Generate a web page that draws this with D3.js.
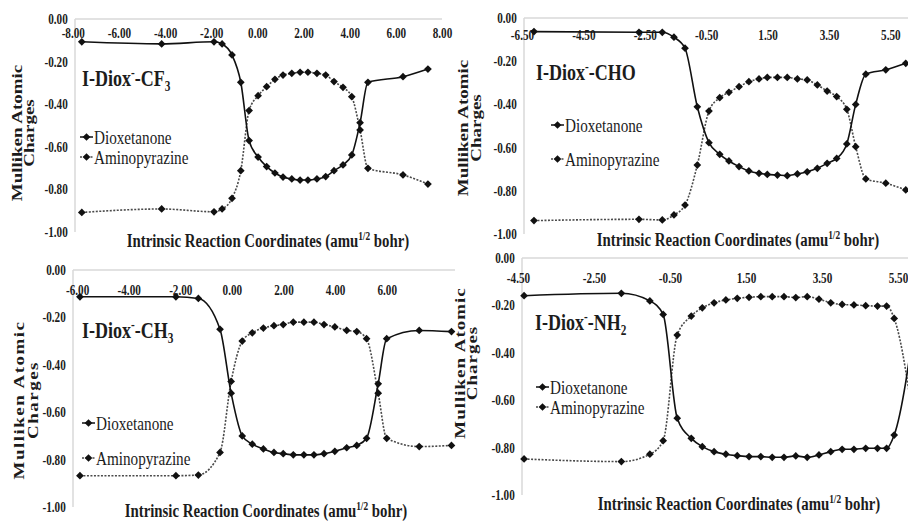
<!DOCTYPE html>
<html lang="en">
<head>
<meta charset="UTF-8">
<title>Mulliken Atomic Charges along the IRC</title>
<script src="https://d3js.org/d3.v7.min.js"></script>
<style>
  body { margin: 0; background: #fff; }
  svg text { font-family: "Liberation Serif", "Times New Roman", serif; fill: #1c1c1c; }
</style>
</head>
<body>
<div id="chart"></div>
<script>
// ---- data ----
var seriesNames = ["Dioxetanone", "Aminopyrazine"];
var yTicks = [0, -0.2, -0.4, -0.6, -0.8, -1.0];

// I-Diox(-)-CF3
var cf3Ticks = [-8, -6, -4, -2, 0, 2, 4, 6, 8];
var cf3X     = [-7.61, -4.15, -1.88, -1.53, -1.10, -0.72, -0.36, 0.03, 0.40, 0.76, 1.11, 1.49, 1.85, 2.19, 2.58, 2.96, 3.32, 3.71, 4.09, 4.45, 4.79, 6.31, 7.39];
var cf3Diox  = [-0.107, -0.117, -0.107, -0.117, -0.169, -0.297, -0.571, -0.648, -0.693, -0.723, -0.742, -0.751, -0.756, -0.756, -0.751, -0.740, -0.712, -0.685, -0.638, -0.487, -0.297, -0.271, -0.235];
var cf3Amino = [-0.908, -0.892, -0.905, -0.892, -0.842, -0.712, -0.430, -0.360, -0.318, -0.283, -0.263, -0.255, -0.250, -0.250, -0.255, -0.263, -0.294, -0.321, -0.365, -0.521, -0.701, -0.732, -0.775];

// I-Diox(-)-CHO
var choTicks = [-6.5, -4.5, -2.5, -0.5, 1.5, 3.5, 5.5];
var choX     = [-6.11, -2.69, -1.93, -1.55, -1.19, -0.79, -0.41, -0.06, 0.24, 0.57, 0.89, 1.22, 1.49, 1.82, 2.14, 2.47, 2.79, 3.12, 3.44, 3.75, 4.08, 4.37, 4.70, 5.35, 6.00];
var choDiox  = [-0.063, -0.066, -0.066, -0.089, -0.140, -0.411, -0.577, -0.631, -0.662, -0.688, -0.708, -0.719, -0.724, -0.727, -0.730, -0.722, -0.712, -0.696, -0.673, -0.650, -0.583, -0.400, -0.260, -0.240, -0.210];
var choAmino = [-0.938, -0.932, -0.935, -0.912, -0.866, -0.681, -0.431, -0.369, -0.344, -0.318, -0.295, -0.282, -0.275, -0.275, -0.275, -0.282, -0.287, -0.310, -0.338, -0.364, -0.423, -0.596, -0.745, -0.765, -0.796];

// I-Diox(-)-CH3
var ch3Ticks = [-6, -4, -2, 0, 2, 4, 6];
var ch3X     = [-5.89, -2.17, -1.30, -0.46, -0.03, 0.40, 0.79, 1.22, 1.63, 1.99, 2.38, 2.79, 3.18, 3.57, 3.99, 4.45, 4.84, 5.22, 5.67, 6.00, 7.26, 8.51];
var ch3Diox  = [-0.113, -0.113, -0.120, -0.250, -0.520, -0.700, -0.735, -0.755, -0.770, -0.775, -0.780, -0.780, -0.780, -0.775, -0.765, -0.750, -0.740, -0.710, -0.480, -0.290, -0.255, -0.260];
var ch3Amino = [-0.868, -0.868, -0.865, -0.770, -0.470, -0.300, -0.265, -0.245, -0.235, -0.230, -0.220, -0.220, -0.220, -0.230, -0.240, -0.255, -0.260, -0.290, -0.520, -0.710, -0.745, -0.740];

// I-Diox(-)-NH2
var nh2Ticks = [-4.5, -2.5, -0.5, 1.5, 3.5, 5.5];
var nh2X     = [-4.34, -1.78, -1.03, -0.68, -0.31, 0.06, 0.35, 0.66, 0.97, 1.27, 1.58, 1.89, 2.19, 2.50, 2.81, 3.11, 3.42, 3.73, 4.03, 4.34, 4.65, 4.96, 5.20, 5.40, 6.00];
var nh2Diox  = [-0.159, -0.149, -0.181, -0.238, -0.676, -0.761, -0.796, -0.817, -0.828, -0.834, -0.838, -0.838, -0.841, -0.841, -0.835, -0.841, -0.831, -0.817, -0.807, -0.807, -0.803, -0.803, -0.803, -0.747, -0.200];
var nh2Amino = [-0.848, -0.859, -0.828, -0.771, -0.325, -0.245, -0.210, -0.189, -0.177, -0.170, -0.166, -0.163, -0.163, -0.163, -0.167, -0.163, -0.174, -0.189, -0.196, -0.198, -0.201, -0.203, -0.203, -0.255, -0.800];

// ---- page layout ----
var width = 908, height = 521;
var SX = 0.8; // the scanned figure is squeezed horizontally

var panels = [
  { group: ["CF", "3"], x: cf3X, diox: cf3Diox, amino: cf3Amino, ticks: cf3Ticks,
    xd: [-8, 8], xr: [72.8, 442], left: 75, right: 442, yr: [19, 232], tickDy: 14,
    title: [82, 86], legend: [80, 137, 20], xTitle: [268, 247], yTitle: [17, 29, 133, 0] },
  { group: ["CHO", ""], x: choX, diox: choDiox, amino: choAmino, ticks: choTicks,
    xd: [-6.5, 5.5], xr: [522, 890.4], left: 524, right: 908, yr: [18, 234], tickDy: 17,
    title: [536, 80], legend: [551, 125, 34], xTitle: [738, 246], yTitle: [463, 476, 128, 0] },
  { group: ["CH", "3"], x: ch3X, diox: ch3Diox, amino: ch3Amino, ticks: ch3Ticks,
    xd: [-6, 6], xr: [77.1, 386.7], left: 73, right: 455, yr: [270, 507], tickDy: 20,
    title: [82, 338], legend: [82, 423, 35], xTitle: [266, 517], yTitle: [19, 33, 400, 1.5] },
  { group: ["NH", "2"], x: nh2X, diox: nh2Diox, amino: nh2Amino, ticks: nh2Ticks,
    xd: [-4.5, 5.5], xr: [518, 898], left: 522, right: 908, yr: [258, 495], tickDy: 20,
    title: [535, 330], legend: [536, 387, 20], xTitle: [739, 510], yTitle: [460, 472, 363, 1] }
];

var fmt = function(v) { return (Math.abs(v) < 1e-9 ? 0 : v).toFixed(2); };
var diamond = d3.symbol().type(d3.symbolSquare).size(30);

var svg = d3.select("#chart").append("svg")
    .attr("width", width)
    .attr("height", height)
    .style("background", "#fff");

function squeezed(g, x, y, sx) {
  return g.append("text").attr("transform", "translate(" + x + "," + y + ") scale(" + sx + ",1)");
}

panels.forEach(function(p) {
  var g = svg.append("g");
  var x = d3.scaleLinear().domain(p.xd).range(p.xr);
  var y = d3.scaleLinear().domain([0, -1]).range(p.yr);

  // gray axis lines (top at y = 0, left at axis crossing)
  g.append("line").attr("x1", p.left).attr("x2", p.right).attr("y1", y(0)).attr("y2", y(0))
    .attr("stroke", "#d9d9d9").attr("stroke-width", 1.5);
  g.append("line").attr("x1", p.left).attr("x2", p.left).attr("y1", y(0)).attr("y2", y(-1))
    .attr("stroke", "#d9d9d9").attr("stroke-width", 1.5);

  // x tick labels sit just under the y = 0 line
  var xAxis = g.append("g")
    .attr("transform", "translate(0," + (y(0) + p.tickDy) + ")")
    .call(d3.axisBottom(x).tickValues(p.ticks).tickSize(0).tickPadding(0).tickFormat(fmt));
  xAxis.select(".domain").remove();
  xAxis.selectAll("text").attr("y", 0).attr("dy", "0.35em")
    .attr("transform", "scale(" + SX + ",1)")
    .style("font-size", "14px").style("font-weight", "bold")
    .style("font-family", "'Liberation Serif', serif").attr("fill", "#1c1c1c");

  var yAxis = g.append("g")
    .attr("transform", "translate(" + p.left + ",0)")
    .call(d3.axisLeft(y).tickValues(yTicks).tickSize(0).tickPadding(9).tickFormat(fmt));
  yAxis.select(".domain").remove();
  yAxis.selectAll("text")
    .attr("transform", "scale(" + SX + ",1)")
    .style("font-size", "14px").style("font-weight", "bold")
    .style("font-family", "'Liberation Serif', serif").attr("fill", "#1c1c1c");

  // series
  var line = d3.line().x(function(d) { return x(d[0]); }).y(function(d) { return y(d[1]); })
    .curve(d3.curveMonotoneX);
  var series = [
    { values: d3.zip(p.x, p.amino), stroke: "#4a4a4a", dash: "2,1.5" },
    { values: d3.zip(p.x, p.diox), stroke: "#111", dash: null }
  ];
  series.forEach(function(s) {
    g.append("path").datum(s.values).attr("d", line)
      .attr("fill", "none").attr("stroke", s.stroke).attr("stroke-width", 1.6)
      .attr("stroke-dasharray", s.dash);
    g.selectAll(null).data(s.values).enter().append("path")
      .attr("d", diamond)
      .attr("transform", function(d) { return "translate(" + x(d[0]) + "," + y(d[1]) + ") rotate(45)"; })
      .attr("fill", "#111");
  });

  // panel title I-Diox(-)-R
  var t = squeezed(g, p.title[0], p.title[1], 0.75).style("font-size", "24px").style("font-weight", "bold");
  t.append("tspan").text("I-Diox");
  t.append("tspan").attr("dy", -9).style("font-size", "15px").text("-");
  t.append("tspan").attr("dy", 9).text("-" + p.group[0]);
  if (p.group[1]) t.append("tspan").attr("dy", 5).style("font-size", "15px").text(p.group[1]);

  // legend
  [["Dioxetanone", null], ["Aminopyrazine", "2,1.5"]].forEach(function(item, i) {
    var ly = p.legend[1] + i * p.legend[2];
    g.append("line").attr("x1", p.legend[0]).attr("x2", p.legend[0] + 13).attr("y1", ly).attr("y2", ly)
      .attr("stroke", i ? "#4a4a4a" : "#111").attr("stroke-width", 1.5).attr("stroke-dasharray", item[1]);
    g.append("path").attr("d", diamond)
      .attr("transform", "translate(" + (p.legend[0] + 6.5) + "," + ly + ") rotate(45)").attr("fill", "#111");
    squeezed(g, p.legend[0] + 14, ly, SX).attr("dy", "0.35em").style("font-size", "19px").text(item[0]);
  });

  // x axis title
  var xt = squeezed(g, p.xTitle[0], p.xTitle[1], 0.78).attr("text-anchor", "middle")
    .style("font-size", "19px").style("font-weight", "bold");
  xt.append("tspan").text("Intrinsic Reaction Coordinates (amu");
  xt.append("tspan").attr("dy", -7).style("font-size", "12px").text("1/2");
  xt.append("tspan").attr("dy", 7).text(" bohr)");

  // y axis title, two lines
  [["Mulliken Atomic", p.yTitle[0]], ["Charges", p.yTitle[1]]].forEach(function(l) {
    g.append("text")
      .attr("transform", "translate(" + l[1] + "," + p.yTitle[2] + ") scale(" + SX + ",1) rotate(-90)")
      .attr("text-anchor", "middle").attr("dy", "0.35em")
      .style("font-size", "19px").style("font-weight", "bold")
      .style("letter-spacing", p.yTitle[3] + "px")
      .text(l[0]);
  });
});
</script>
</body>
</html>
